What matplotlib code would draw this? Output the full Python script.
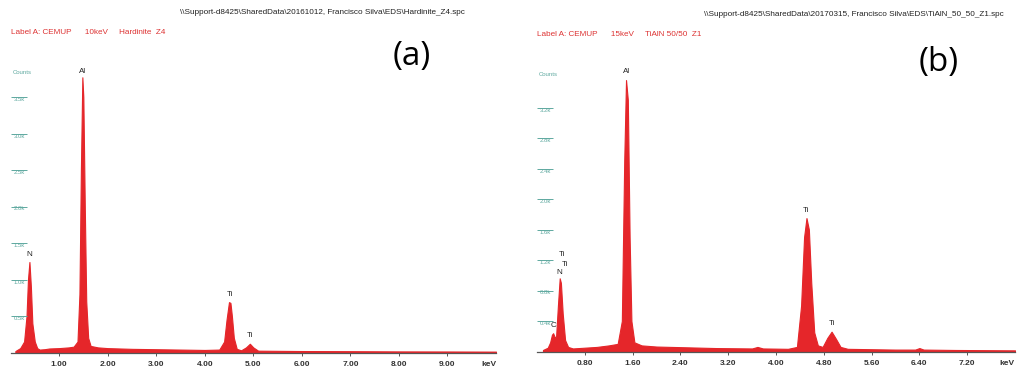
import matplotlib.pyplot as plt
import matplotlib.transforms as mtransforms

# ------------------------------------------------------------
# Data
# ------------------------------------------------------------

# (a) Hardinite Z4, 10 keV
kev_a = [0.10, 0.20, 0.28, 0.33, 0.36, 0.39, 0.42, 0.45, 0.50, 0.55,
         0.60, 0.70, 0.80, 1.00, 1.20, 1.30, 1.38, 1.42, 1.45, 1.48,
         1.50, 1.53, 1.56, 1.60, 1.65, 1.80, 2.00, 2.50, 3.00, 3.50,
         4.00, 4.30, 4.40, 4.45, 4.50, 4.53, 4.56, 4.60, 4.66, 4.75,
         4.85, 4.93, 5.00, 5.10, 6.00, 7.00, 8.00, 9.00, 10.00]
counts_a = [20, 60, 150, 500, 1000, 1240, 900, 400, 150, 60,
            40, 45, 55, 60, 70, 80, 150, 800, 2500, 3770,
            3500, 2000, 700, 200, 90, 70, 60, 50, 45, 40,
            35, 40, 150, 450, 690, 680, 500, 200, 50, 30,
            70, 120, 70, 25, 20, 18, 15, 14, 12]

# (b) TiAlN 50/50 Z1, 15 keV
kev_b = [0.10, 0.18, 0.22, 0.25, 0.27, 0.30, 0.32, 0.35, 0.38, 0.40,
         0.43, 0.47, 0.52, 0.60, 0.80, 1.00, 1.20, 1.35, 1.42, 1.46,
         1.49, 1.52, 1.55, 1.58, 1.63, 1.75, 2.00, 2.50, 3.00, 3.60,
         3.69, 3.78, 4.20, 4.35, 4.42, 4.47, 4.51, 4.55, 4.59, 4.64,
         4.70, 4.78, 4.86, 4.93, 5.00, 5.08, 5.20, 6.00, 6.33, 6.40,
         6.47, 7.00, 8.00]
counts_b = [20, 50, 120, 220, 240, 180, 200, 600, 960, 900,
            500, 150, 60, 40, 50, 60, 80, 100, 400, 2500,
            3560, 3300, 1500, 400, 120, 80, 65, 55, 45, 40,
            60, 40, 35, 60, 600, 1500, 1750, 1600, 900, 250,
            80, 60, 180, 260, 170, 60, 35, 25, 25, 45,
            25, 20, 15]

# peak labels (element, keV, counts at label baseline)
peaks_a = [("N", 0.38, 1290), ("Al", 1.49, 3800), ("Ti", 4.52, 750), ("Ti", 4.94, 180)]
peaks_b = [("C", 0.27, 290), ("N", 0.38, 990), ("Ti", 0.42, 1226), ("Ti", 0.47, 1095),
           ("Al", 1.50, 3620), ("Ti", 4.51, 1800), ("Ti", 4.93, 320)]

ticks_a = [1, 2, 3, 4, 5, 6, 7, 8, 9]
yticks_a = [500, 1000, 1500, 2000, 2500, 3000, 3500]
ticks_b = [0.8, 1.6, 2.4, 3.2, 4.0, 4.8, 5.6, 6.4, 7.2]
yticks_b = [400, 800, 1200, 1600, 2000, 2400, 2800, 3200]

paths = [r"\\Support-d8425\SharedData\20161012, Francisco Silva\EDS\Hardinite_Z4.spc",
         r"\\Support-d8425\SharedData\20170315, Francisco Silva\EDS\TiAlN_50_50_Z1.spc"]
labels = ["Label A: CEMUP      10keV     Hardinite  Z4",
          "Label A: CEMUP      15keV     TiAlN 50/50  Z1"]
tags = ["(a)", "(b)"]

RED = "#e5262a"
TEAL = "#5fa9a0"

plt.rcParams['font.family'] = ['Liberation Sans', 'DejaVu Sans']

W, H = 1024, 377
fig = plt.figure(figsize=(W / 100, H / 100), dpi=100)


def px_axes(x0, x1, ytop, ybot):
    return fig.add_axes([x0 / W, 1 - ybot / H, (x1 - x0) / W, (ybot - ytop) / H])


def draw_panel(ax, kev, counts, peaks, xt, yt, xmax, ymax, fmt):
    ax.fill_between(kev, counts, 0, color=RED, linewidth=0.8, edgecolor=RED)
    ax.set_xlim(0, xmax)
    ax.set_ylim(0, ymax)
    for s in ["top", "right", "left"]:
        ax.spines[s].set_visible(False)
    ax.spines["bottom"].set_color("#555555")
    ax.spines["bottom"].set_linewidth(0.9)
    ax.set_xticks(xt)
    ax.set_xticklabels([fmt.format(t) for t in xt], fontsize=6,
                       fontweight="bold", color="#333333")
    ax.tick_params(axis="x", direction="out", length=2.5, width=0.7,
                   color="#555555", pad=3.5)
    ax.set_yticks(yt)
    ax.tick_params(axis="y", direction="in", length=11.5, width=0.7,
                   color=TEAL, labelleft=False)
    trans = mtransforms.blended_transform_factory(ax.transAxes, ax.transData)
    for v in yt:
        ax.text(0.006, v, f"{v / 1000:.1f}k", transform=trans, fontsize=4.3,
                color=TEAL, va="top", ha="left")
    ax.text(1.0, -0.03, "keV", transform=ax.transAxes, fontsize=6,
            fontweight="bold", color="#333333", ha="right", va="top")
    for name, e, c in peaks:
        ax.text(e, c, name, fontsize=5.8, ha="center", va="bottom", color="#222222")


# panel (a)
ax_a = px_axes(10.5, 496, 60.5, 352.5)
draw_panel(ax_a, kev_a, counts_a, peaks_a, ticks_a, yticks_a, 10, 4000, "{:.2f}")

# panel (b)
ax_b = px_axes(537, 1015, 61.75, 351.5)
draw_panel(ax_b, kev_b, counts_b, peaks_b, ticks_b, yticks_b, 8, 3800, "{:.2f}")

# headers
fig.text(180 / W, 1 - 12 / H, paths[0], fontsize=5.9, color="#222222", va="center")
fig.text(704 / W, 1 - 15 / H, paths[1], fontsize=5.9, color="#222222", va="center")
fig.text(11 / W, 1 - 32 / H, labels[0], fontsize=5.9, color="#dd3333", va="center")
fig.text(537 / W, 1 - 34 / H, labels[1], fontsize=5.9, color="#dd3333", va="center")
fig.text(13 / W, 1 - 73 / H, "Counts", fontsize=4.3, color=TEAL, va="center")
fig.text(539 / W, 1 - 75 / H, "Counts", fontsize=4.3, color=TEAL, va="center")
fig.text(412 / W, 1 - 57 / H, tags[0], fontsize=24, family=["Open Sans", "DejaVu Sans"],
         ha="center", va="center", color="black")
fig.text(939 / W, 1 - 62 / H, tags[1], fontsize=24, family=["Open Sans", "DejaVu Sans"],
         ha="center", va="center", color="black")

fig.savefig("out.png", dpi=100, facecolor="white")
